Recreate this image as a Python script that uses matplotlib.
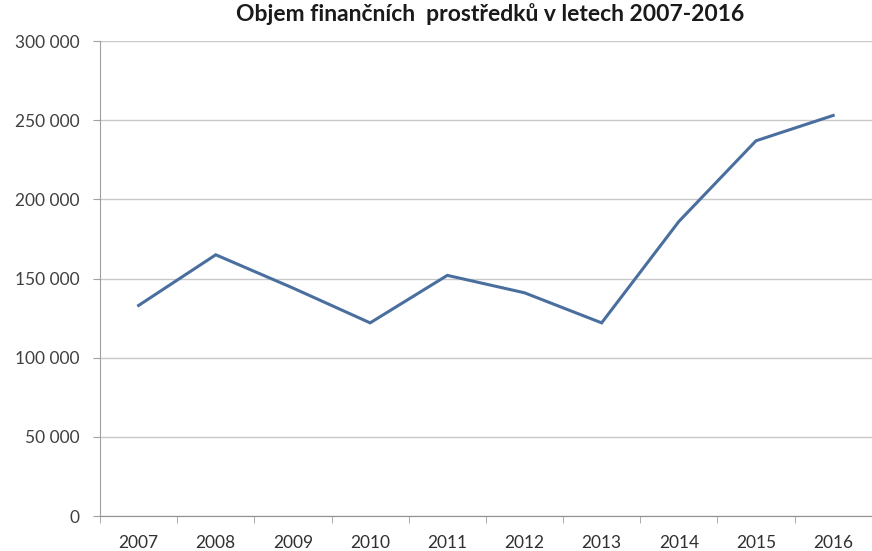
import matplotlib.pyplot as plt
import numpy as np
from matplotlib.ticker import FuncFormatter, FixedLocator

years = ['2007', '2008', '2009', '2010', '2011', '2012', '2013', '2014', '2015', '2016']
values = [133000, 165000, 144000, 122000, 152000, 141000, 122000, 186000, 237000, 253000]

plt.rcParams['font.family'] = ['Lato', 'DejaVu Sans']

fig = plt.figure(figsize=(8.72, 5.51), dpi=100)
ax = fig.add_axes([0.1147, 0.0635, 0.885, 0.862])

x = np.arange(len(years))
ax.plot(x, values, c='#4a6f9f', lw=2.2, solid_joinstyle='miter')

ax.set_xlim(-0.5, len(years) - 0.5)
ax.set_ylim(0, 300000)
ax.set_yticks(range(0, 300001, 50000))
ax.yaxis.set_major_formatter(FuncFormatter(lambda v, p: f"{int(v):,}".replace(',', ' ')))
ax.set_xticks(x)
ax.set_xticklabels(years)
ax.xaxis.set_minor_locator(FixedLocator(np.arange(-0.5, len(years), 1.0)))

ax.tick_params(axis='x', which='major', length=0, pad=13.5, labelsize=12.5, labelcolor='#303030')
ax.tick_params(axis='x', which='minor', length=5, color='#a0a0a0', direction='out')
ax.tick_params(axis='y', length=5, color='#a0a0a0', pad=10, labelsize=12.5, labelcolor='#404040')

ax.grid(axis='y', color='#c8c8c8', lw=1)
ax.set_axisbelow(True)
for s in ['top', 'right']:
    ax.spines[s].set_visible(False)
ax.spines['left'].set_color('#a0a0a0')
ax.spines['bottom'].set_color('#909090')

fig.suptitle('Objem finančních  prostředků v letech 2007-2016', x=0.562, y=0.995,
             fontsize=16.5, fontweight='bold', color='#1a1a1a')

fig.savefig('out.png', dpi=100)
